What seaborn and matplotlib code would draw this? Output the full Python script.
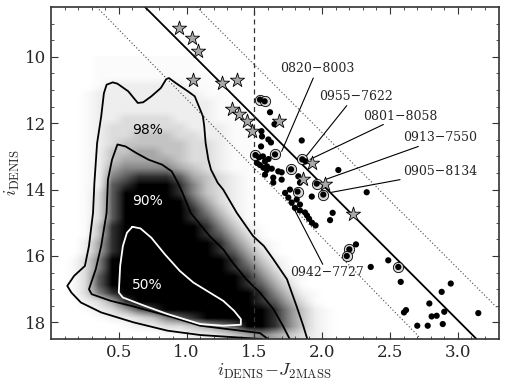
import matplotlib
matplotlib.use("Agg")
import matplotlib.pyplot as plt
from matplotlib.colors import PowerNorm
import numpy as np
import seaborn as sns

# grey-scale density of the field sample, 0 = white ... 9 = black
# columns: i-J from 0.0 to 2.5 in 0.1 steps, rows: i from 10.0 to 18.5 in 0.25 steps
dens_rows = [
    "0001111111100000000000000",
    "0001111111100000000000000",
    "0001111111110000000000000",
    "0001222222110000000000000",
    "0012222222211000000000000",
    "0012222222221100000000000",
    "0012222222221100000000000",
    "0012233332221100000000000",
    "0012333333222110000000000",
    "0012334443322110000000000",
    "0012344444332110000000000",
    "0012445544332110000000000",
    "0012455554332110000000000",
    "0012566665432110000000000",
    "0012678887543210000000000",
    "0012789998643210000000000",
    "0013799998643210000000000",
    "0013799999753210000000000",
    "0013799999864210000000000",
    "0013799999875310000000000",
    "0014899999986421000000000",
    "0014899999987531000000000",
    "0025899999998642100000000",
    "0025899999998753100000000",
    "0136999999999864210000000",
    "0136999999999875310000000",
    "0137999999999986421000000",
    "0137999999999987531000000",
    "0136899999999998642100000",
    "0023589999999998753100000",
    "0012357899999999864210000",
    "0001223467899999864210000",
    "0000012233456799864210000",
    "0000000011223456543210000",
]
dens_color_range = (0.0, 2.5)
dens_mag_range = (10.0, 18.5)

# contour levels of the density
c98_x = [1.55, 1.10, 0.86, 0.61, 0.37, 0.22, 0.15, 0.12, 0.17, 0.25, 0.28, 0.31,
         0.32, 0.34, 0.37, 0.39, 0.41, 0.455, 0.49, 0.57, 0.61, 0.64, 0.68, 0.74,
         0.81, 0.85, 0.87, 0.92, 1.01, 1.06, 1.08, 1.12, 1.13, 1.14, 1.16, 1.18,
         1.23, 1.27, 1.37, 1.49, 1.57, 1.64, 1.69, 1.74, 1.81, 1.86, 1.89]
c98_y = [18.5, 18.38, 18.25, 18.0, 17.7, 17.4, 17.1, 16.9, 16.6, 16.3, 15.7, 14.7,
         13.8, 12.6, 11.8, 11.1, 10.84, 10.77, 10.81, 11.04, 11.24, 11.39, 11.37, 11.19,
         10.94, 10.67, 10.64, 10.79, 11.04, 11.19, 11.39, 11.79, 12.09, 12.59, 13.09, 13.4,
         13.8, 14.0, 14.7, 15.4, 15.7, 16.1, 16.4, 16.7, 17.5, 18.1, 18.5]

c90_x = [1.60, 1.54, 1.10, 0.86, 0.59, 0.44, 0.30, 0.28, 0.33, 0.37, 0.41, 0.42,
         0.45, 0.49, 0.55, 0.63, 0.72, 0.82, 0.89, 0.93, 0.97, 1.03, 1.17, 1.27,
         1.34, 1.44, 1.54, 1.64, 1.71, 1.76]
c90_y = [18.5, 18.32, 18.1, 17.8, 17.5, 17.35, 17.15, 17.0, 16.4, 15.7, 14.7, 13.7,
         13.1, 12.64, 12.7, 12.9, 13.1, 13.25, 13.45, 13.75, 14.1, 14.7, 15.4, 15.8,
         16.2, 16.7, 17.1, 17.6, 18.1, 18.5]

c50_x = [0.60, 0.66, 0.74, 0.84, 0.95, 1.05, 1.15, 1.27, 1.35, 1.40, 1.40, 1.27,
         1.10, 0.86, 0.69, 0.53, 0.50, 0.51, 0.53, 0.56, 0.60]
c50_y = [15.12, 15.17, 15.45, 15.95, 16.45, 16.8, 17.05, 17.35, 17.65, 17.9, 18.07, 18.1,
         18.05, 17.75, 17.5, 17.25, 17.1, 16.3, 15.7, 15.3, 15.12]

pct_labels = ["98%", "90%", "50%"]
pct_x = [0.71, 0.713, 0.713]
pct_y = [12.19, 14.35, 16.87]

# sequence line and its scatter band
seq_x = [0.693, 3.138]
seq_y = [8.5, 18.5]
band_lo_x = [0.337, 2.73]
band_lo_y = [8.5, 18.5]
band_hi_x = [1.074, 3.3]
band_hi_y = [8.5, 17.6]
color_cut = 1.5

# candidates
dot_x = [1.615, 1.648, 1.552, 1.556, 1.603, 1.622, 1.849, 1.549, 1.534, 1.563,
         1.578, 1.519, 1.541, 1.593, 1.604, 1.878, 1.566, 1.591, 1.628, 1.676,
         1.701, 2.119, 1.578, 1.639, 1.701, 1.824, 1.836, 1.639, 1.762, 1.726,
         1.750, 1.812, 1.923, 1.775, 1.836, 1.799, 1.836, 1.873, 1.888, 1.903,
         1.925, 1.951, 2.328, 2.077, 2.058, 2.249, 2.487, 2.358, 2.579, 2.948,
         2.881, 2.790, 2.618, 2.603, 2.900, 2.807, 2.844, 3.151, 2.889, 2.701,
         2.778]
dot_y = [11.67, 12.03, 12.24, 12.40, 12.49, 12.58, 12.52, 12.70, 13.03, 13.00,
         13.15, 13.20, 13.26, 13.30, 13.08, 13.15, 13.34, 13.41, 13.37, 13.45,
         13.48, 13.41, 13.55, 13.64, 13.70, 13.60, 13.79, 13.79, 14.00, 14.10,
         14.24, 14.30, 14.21, 14.39, 14.45, 14.55, 14.63, 14.69, 14.78, 14.88,
         15.00, 15.08, 14.08, 14.70, 14.92, 15.65, 16.13, 16.33, 16.78, 16.83,
         17.08, 17.43, 17.63, 17.70, 17.68, 17.82, 17.80, 17.72, 18.05, 18.10,
         18.10]

ring_x = [1.541, 1.575, 1.508, 1.652, 1.853, 1.770, 1.959, 1.818, 2.008, 2.200,
          2.181, 2.561]
ring_y = [11.29, 11.34, 12.96, 12.94, 13.09, 13.39, 13.82, 14.06, 14.15, 15.80,
          16.00, 16.33]

star_x = [0.944, 1.042, 1.086, 1.049, 1.263, 1.369, 1.333, 1.389, 1.448, 1.480,
          1.681, 1.928, 1.855, 2.021, 2.226]
star_y = [9.12, 9.44, 9.82, 10.71, 10.79, 10.69, 11.56, 11.72, 11.94, 12.24,
          11.94, 13.19, 13.67, 13.82, 14.72]

names = ["0820\u22128003", "0955\u22127622", "0801\u22128058",
         "0913\u22127550", "0905\u22128134", "0942\u22127727"]
name_x = [1.965, 2.249, 2.574, 2.869, 2.869, 2.033]
name_y = [10.34, 11.21, 11.79, 12.42, 13.45, 16.50]
lead_x0 = [1.934, 2.181, 2.451, 2.709, 2.574, 2.004]
lead_y0 = [10.64, 11.47, 12.04, 12.70, 13.70, 16.25]
lead_x1 = [1.701, 1.873, 1.910, 2.021, 2.058, 1.757]
lead_y1 = [12.85, 13.04, 13.09, 13.70, 14.09, 14.30]

sns.set_style("ticks")
plt.rcParams["font.family"] = ["DejaVu Serif"]
plt.rcParams["mathtext.fontset"] = "cm"

fig = plt.figure(figsize=(5.09, 3.82), dpi=100)
ax = fig.add_axes([51 / 509, 43 / 382, 447.5 / 509, 332 / 382])

dens = np.array([[int(c) for c in row] for row in dens_rows], dtype=float)
ax.imshow(dens, cmap="gray_r", norm=PowerNorm(gamma=1.8, vmin=0, vmax=9),
          interpolation="bilinear",
          extent=[dens_color_range[0], dens_color_range[1],
                  dens_mag_range[1], dens_mag_range[0]],
          origin="upper", aspect="auto", zorder=0)

ax.plot(c98_x, c98_y, color="black", lw=1.3, zorder=2)
ax.plot(c90_x, c90_y, color="black", lw=1.3, zorder=2)
ax.plot(c50_x, c50_y, color="white", lw=1.3, zorder=2)
for lab, x, y in zip(pct_labels, pct_x, pct_y):
    ax.text(x, y, lab, ha="center", va="center", fontsize=10,
            family="DejaVu Sans", color="black" if lab == "98%" else "white",
            zorder=3)

ax.plot(seq_x, seq_y, color="black", lw=1.3, zorder=2)
ax.plot(band_lo_x, band_lo_y, color="#444444", lw=0.8, ls=(0, (1, 2)), zorder=2)
ax.plot(band_hi_x, band_hi_y, color="#444444", lw=0.8, ls=(0, (1, 2)), zorder=2)
ax.axvline(color_cut, color="#333333", lw=0.9, ls=(0, (4, 3)), zorder=2)

for x0, y0, x1, y1 in zip(lead_x0, lead_y0, lead_x1, lead_y1):
    ax.plot([x0, x1], [y0, y1], color="black", lw=0.8, zorder=3)
for lab, x, y in zip(names, name_x, name_y):
    ax.text(x, y, lab, ha="center", va="center", fontsize=9, zorder=6)

sns.scatterplot(x=ring_x, y=ring_y, s=55, color="#d6d6d6", edgecolor="black",
                linewidth=0.6, ax=ax, zorder=4)
sns.scatterplot(x=dot_x + ring_x, y=dot_y + ring_y, s=20, color="black",
                edgecolor="none", ax=ax, zorder=5)
sns.scatterplot(x=star_x, y=star_y, marker="*", s=115, color="#a8a8a8",
                edgecolor="black", linewidth=0.6, ax=ax, zorder=5)

ax.set_xlim(0, 3.3)
ax.set_ylim(18.5, 8.5)
ax.set_xticks([0.5, 1.0, 1.5, 2.0, 2.5, 3.0])
ax.set_yticks([10, 12, 14, 16, 18])
ax.set_xticks(np.arange(0.1, 3.3, 0.1), minor=True)
ax.set_yticks(np.arange(9.0, 18.5, 0.5), minor=True)
ax.tick_params(which="both", direction="in", top=True, right=True,
               labelsize=12, color="#333333")
ax.tick_params(which="major", length=5, width=0.8)
ax.tick_params(which="minor", length=2.5, width=0.6)
for sp in ax.spines.values():
    sp.set_color("#333333")
    sp.set_linewidth(1.2)

ax.set_xlabel(r"$i_{\rm DENIS}\!-\!J_{\rm 2MASS}$", fontsize=13, labelpad=1)
ax.set_ylabel(r"$i_{\rm DENIS}$", fontsize=13, labelpad=2)

fig.savefig("out.png", dpi=100)
